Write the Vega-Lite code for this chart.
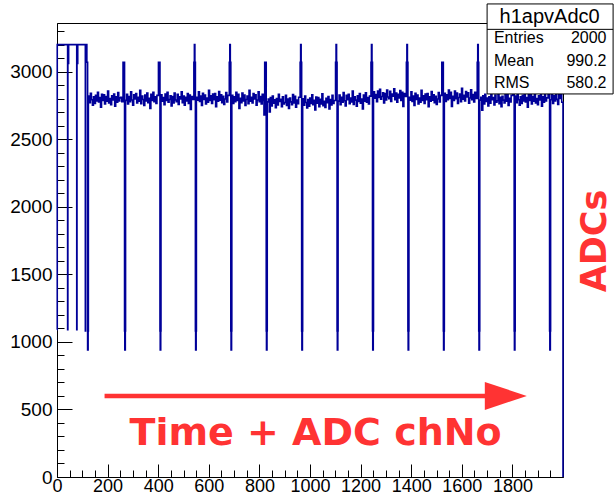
{
  "$schema": "https://vega.github.io/schema/vega-lite/v6.json",
  "width": 506,
  "height": 454,
  "autosize": {"type": "none"},
  "padding": {"left": 57, "top": 23, "right": 51, "bottom": 24},
  "background": "white",
  "config": {"view": {"stroke": "black", "strokeWidth": 1}, "font": "Liberation Sans"},
  "encoding": {
    "x": {"field": "x", "type": "quantitative",
      "scale": {"domain": [0, 2000], "nice": false, "zero": false},
      "axis": {"title": null, "grid": false,
        "values": [0,50,100,150,200,250,300,350,400,450,500,550,600,650,700,750,800,850,900,950,1000,1050,1100,1150,1200,1250,1300,1350,1400,1450,1500,1550,1600,1650,1700,1750,1800,1850,1900,1950],
        "labelExpr": "datum.value % 200 == 0 ? datum.label : ''",
        "format": "d",
        "tickSize": {"condition": {"test": "datum.value % 200 == 0", "value": -13}, "value": -7},
        "tickColor": "black", "tickWidth": 1, "domainColor": "black", "domainWidth": 1,
        "labelFont": "Liberation Sans", "labelFontSize": 18, "labelColor": "black",
        "labelPadding": 13, "labelFlush": false, "labelOverlap": false}},
    "y": {"field": "y", "type": "quantitative",
      "scale": {"domain": [0, 3360], "nice": false, "zero": false},
      "axis": {"title": null, "grid": false,
        "values": [0,100,200,300,400,500,600,700,800,900,1000,1100,1200,1300,1400,1500,1600,1700,1800,1900,2000,2100,2200,2300,2400,2500,2600,2700,2800,2900,3000,3100,3200,3300],
        "labelExpr": "datum.value % 500 == 0 ? datum.label : ''",
        "format": "d",
        "tickSize": {"condition": {"test": "datum.value % 500 == 0", "value": -15}, "value": -7},
        "tickColor": "black", "tickWidth": 1, "domainColor": "black", "domainWidth": 1,
        "labelFont": "Liberation Sans", "labelFontSize": 19, "labelColor": "black",
        "labelPadding": 20, "labelFlush": false, "labelOverlap": false}}
  },
  "layer": [
    {
      "data": {"values": [
        {"x":0,"y":1090},{"x":1,"y":3200},{"x":42,"y":1090},{"x":43,"y":3060},{"x":46,"y":3200},{"x":78,"y":1090},{"x":79,"y":3060},{"x":82,"y":3200},{"x":112,"y":1080},{"x":113,"y":3200},{"x":118,"y":3070},{"x":121,"y":940},{"x":123,"y":1080},
        {"x":124,"y":2819},{"x":128,"y":2771},{"x":132,"y":2840},{"x":136,"y":2792},{"x":140,"y":2752},{"x":144,"y":2813},{"x":148,"y":2765},{"x":152,"y":2824},{"x":156,"y":2784},{"x":160,"y":2848},{"x":164,"y":2776},{"x":168,"y":2808},{"x":172,"y":2736},{"x":176,"y":2832},{"x":180,"y":2787},{"x":184,"y":2829},{"x":188,"y":2760},{"x":192,"y":2816},{"x":196,"y":2781},{"x":200,"y":2856},{"x":204,"y":2768},{"x":208,"y":2800},{"x":212,"y":2755},{"x":216,"y":2822},{"x":220,"y":2790},{"x":224,"y":2835},{"x":228,"y":2744},{"x":232,"y":2814},{"x":236,"y":2774},{"x":240,"y":2845},{"x":244,"y":2784},{"x":248,"y":2806},{"x":252,"y":2810},{"x":256,"y":2778},
        {"x":261,"y":3070},{"x":267,"y":1080},{"x":268,"y":940},{"x":270,"y":1080},
        {"x":271,"y":2787},{"x":275,"y":2832},{"x":279,"y":2760},{"x":283,"y":2816},{"x":287,"y":2778},{"x":291,"y":2851},{"x":295,"y":2790},{"x":299,"y":2752},{"x":303,"y":2829},{"x":307,"y":2797},{"x":311,"y":2838},{"x":315,"y":2768},{"x":319,"y":2810},{"x":323,"y":2781},{"x":327,"y":2861},{"x":331,"y":2762},{"x":335,"y":2819},{"x":339,"y":2794},{"x":343,"y":2749},{"x":347,"y":2826},{"x":351,"y":2784},{"x":355,"y":2842},{"x":359,"y":2771},{"x":363,"y":2803},{"x":367,"y":2728},{"x":371,"y":2832},{"x":375,"y":2787},{"x":379,"y":2848},{"x":383,"y":2778},{"x":387,"y":2813},{"x":391,"y":2765},{"x":395,"y":2824},
        {"x":401,"y":3070},{"x":407,"y":1080},{"x":408,"y":940},{"x":410,"y":1080},
        {"x":411,"y":2829},{"x":415,"y":2781},{"x":419,"y":2808},{"x":423,"y":2755},{"x":427,"y":2835},{"x":431,"y":2787},{"x":435,"y":2848},{"x":439,"y":2774},{"x":443,"y":2794},{"x":447,"y":2822},{"x":451,"y":2746},{"x":455,"y":2816},{"x":459,"y":2768},{"x":463,"y":2842},{"x":467,"y":2790},{"x":471,"y":2778},{"x":475,"y":2832},{"x":479,"y":2758},{"x":483,"y":2813},{"x":487,"y":2797},{"x":491,"y":2851},{"x":495,"y":2771},{"x":499,"y":2819},{"x":503,"y":2752},{"x":507,"y":2810},{"x":511,"y":2784},{"x":515,"y":2838},{"x":519,"y":2765},{"x":523,"y":2826},{"x":527,"y":2720},{"x":531,"y":2816},{"x":535,"y":2794},
        {"x":541,"y":3070},{"x":543,"y":3200},{"x":545,"y":3070},{"x":547,"y":1080},{"x":548,"y":940},{"x":550,"y":1080},
        {"x":551,"y":2811},{"x":555,"y":2789},{"x":559,"y":2850},{"x":563,"y":2779},{"x":567,"y":2819},{"x":571,"y":2749},{"x":575,"y":2840},{"x":579,"y":2795},{"x":583,"y":2827},{"x":587,"y":2760},{"x":591,"y":2805},{"x":595,"y":2773},{"x":599,"y":2861},{"x":603,"y":2786},{"x":607,"y":2821},{"x":611,"y":2765},{"x":615,"y":2834},{"x":619,"y":2792},{"x":623,"y":2837},{"x":627,"y":2741},{"x":631,"y":2813},{"x":635,"y":2781},{"x":639,"y":2853},{"x":643,"y":2789},{"x":647,"y":2829},{"x":651,"y":2770},{"x":655,"y":2818},{"x":659,"y":2757},{"x":663,"y":2797},{"x":667,"y":2845},{"x":671,"y":2776},{"x":675,"y":2824},
        {"x":681,"y":3070},{"x":683,"y":3200},{"x":685,"y":3070},{"x":687,"y":1080},{"x":688,"y":940},{"x":690,"y":1080},
        {"x":691,"y":2824},{"x":695,"y":2765},{"x":699,"y":2813},{"x":703,"y":2778},{"x":707,"y":2848},{"x":711,"y":2787},{"x":715,"y":2832},{"x":719,"y":2728},{"x":723,"y":2803},{"x":727,"y":2771},{"x":731,"y":2842},{"x":735,"y":2784},{"x":739,"y":2826},{"x":743,"y":2749},{"x":747,"y":2794},{"x":751,"y":2819},{"x":755,"y":2762},{"x":759,"y":2861},{"x":763,"y":2781},{"x":767,"y":2810},{"x":771,"y":2768},{"x":775,"y":2838},{"x":779,"y":2797},{"x":783,"y":2829},{"x":787,"y":2752},{"x":791,"y":2790},{"x":795,"y":2851},{"x":799,"y":2778},{"x":803,"y":2816},{"x":807,"y":2760},{"x":811,"y":2832},{"x":815,"y":2787},{"x":818,"y":2680},
        {"x":821,"y":3070},{"x":827,"y":1080},{"x":828,"y":940},{"x":830,"y":1080},
        {"x":831,"y":2776},{"x":835,"y":2798},{"x":839,"y":2702},{"x":843,"y":2808},{"x":847,"y":2747},{"x":851,"y":2820},{"x":855,"y":2766},{"x":859,"y":2792},{"x":863,"y":2734},{"x":867,"y":2801},{"x":871,"y":2753},{"x":875,"y":2833},{"x":879,"y":2779},{"x":883,"y":2795},{"x":887,"y":2740},{"x":891,"y":2814},{"x":895,"y":2760},{"x":899,"y":2772},{"x":903,"y":2824},{"x":907,"y":2750},{"x":911,"y":2798},{"x":915,"y":2728},{"x":919,"y":2804},{"x":923,"y":2776},{"x":927,"y":2756},{"x":931,"y":2830},{"x":935,"y":2769},{"x":939,"y":2817},{"x":943,"y":2737},{"x":947,"y":2790},{"x":951,"y":2763},{"x":955,"y":2811},
        {"x":961,"y":3070},{"x":963,"y":3200},{"x":965,"y":3070},{"x":967,"y":1080},{"x":968,"y":940},{"x":970,"y":1080},
        {"x":971,"y":2799},{"x":975,"y":2751},{"x":979,"y":2820},{"x":983,"y":2772},{"x":987,"y":2732},{"x":991,"y":2793},{"x":995,"y":2745},{"x":999,"y":2804},{"x":1003,"y":2764},{"x":1007,"y":2828},{"x":1011,"y":2756},{"x":1015,"y":2788},{"x":1019,"y":2716},{"x":1023,"y":2812},{"x":1027,"y":2767},{"x":1031,"y":2809},{"x":1035,"y":2740},{"x":1039,"y":2796},{"x":1043,"y":2761},{"x":1047,"y":2836},{"x":1051,"y":2748},{"x":1055,"y":2780},{"x":1059,"y":2735},{"x":1063,"y":2802},{"x":1067,"y":2770},{"x":1071,"y":2815},{"x":1075,"y":2724},{"x":1079,"y":2794},{"x":1083,"y":2754},{"x":1087,"y":2825},{"x":1091,"y":2764},{"x":1095,"y":2786},
        {"x":1101,"y":3070},{"x":1103,"y":3200},{"x":1105,"y":3070},{"x":1107,"y":1080},{"x":1108,"y":940},{"x":1110,"y":1080},
        {"x":1111,"y":2782},{"x":1115,"y":2827},{"x":1119,"y":2755},{"x":1123,"y":2811},{"x":1127,"y":2773},{"x":1131,"y":2846},{"x":1135,"y":2785},{"x":1139,"y":2747},{"x":1143,"y":2824},{"x":1147,"y":2792},{"x":1151,"y":2833},{"x":1155,"y":2763},{"x":1159,"y":2805},{"x":1163,"y":2776},{"x":1167,"y":2856},{"x":1171,"y":2757},{"x":1175,"y":2814},{"x":1179,"y":2789},{"x":1183,"y":2744},{"x":1187,"y":2821},{"x":1191,"y":2779},{"x":1195,"y":2837},{"x":1199,"y":2766},{"x":1203,"y":2798},{"x":1207,"y":2723},{"x":1211,"y":2827},{"x":1215,"y":2782},{"x":1219,"y":2843},{"x":1223,"y":2773},{"x":1227,"y":2808},{"x":1231,"y":2760},{"x":1235,"y":2819},
        {"x":1241,"y":3070},{"x":1243,"y":3200},{"x":1245,"y":3070},{"x":1247,"y":1080},{"x":1248,"y":940},{"x":1250,"y":1080},
        {"x":1251,"y":2851},{"x":1255,"y":2803},{"x":1259,"y":2830},{"x":1263,"y":2777},{"x":1267,"y":2857},{"x":1271,"y":2809},{"x":1275,"y":2870},{"x":1279,"y":2796},{"x":1283,"y":2816},{"x":1287,"y":2844},{"x":1291,"y":2768},{"x":1295,"y":2838},{"x":1299,"y":2790},{"x":1303,"y":2864},{"x":1307,"y":2812},{"x":1311,"y":2800},{"x":1315,"y":2854},{"x":1319,"y":2780},{"x":1323,"y":2835},{"x":1327,"y":2819},{"x":1331,"y":2873},{"x":1335,"y":2793},{"x":1339,"y":2841},{"x":1343,"y":2774},{"x":1347,"y":2832},{"x":1351,"y":2806},{"x":1355,"y":2860},{"x":1359,"y":2787},{"x":1363,"y":2848},{"x":1367,"y":2742},{"x":1371,"y":2838},{"x":1375,"y":2816},
        {"x":1381,"y":3070},{"x":1383,"y":3200},{"x":1385,"y":3070},{"x":1387,"y":1080},{"x":1388,"y":940},{"x":1390,"y":1080},
        {"x":1391,"y":2811},{"x":1395,"y":2789},{"x":1399,"y":2850},{"x":1403,"y":2779},{"x":1407,"y":2819},{"x":1411,"y":2749},{"x":1415,"y":2840},{"x":1419,"y":2795},{"x":1423,"y":2827},{"x":1427,"y":2760},{"x":1431,"y":2805},{"x":1435,"y":2773},{"x":1439,"y":2861},{"x":1443,"y":2786},{"x":1447,"y":2821},{"x":1451,"y":2765},{"x":1455,"y":2834},{"x":1459,"y":2792},{"x":1463,"y":2837},{"x":1467,"y":2741},{"x":1471,"y":2813},{"x":1475,"y":2781},{"x":1479,"y":2853},{"x":1483,"y":2789},{"x":1487,"y":2829},{"x":1491,"y":2770},{"x":1495,"y":2818},{"x":1499,"y":2757},{"x":1503,"y":2797},{"x":1507,"y":2845},{"x":1511,"y":2776},{"x":1515,"y":2824},
        {"x":1521,"y":3070},{"x":1527,"y":1080},{"x":1528,"y":940},{"x":1530,"y":1080},
        {"x":1531,"y":2839},{"x":1535,"y":2780},{"x":1539,"y":2828},{"x":1543,"y":2793},{"x":1547,"y":2863},{"x":1551,"y":2802},{"x":1555,"y":2847},{"x":1559,"y":2743},{"x":1563,"y":2818},{"x":1567,"y":2786},{"x":1571,"y":2857},{"x":1575,"y":2799},{"x":1579,"y":2841},{"x":1583,"y":2764},{"x":1587,"y":2809},{"x":1591,"y":2834},{"x":1595,"y":2777},{"x":1599,"y":2876},{"x":1603,"y":2796},{"x":1607,"y":2825},{"x":1611,"y":2783},{"x":1615,"y":2853},{"x":1619,"y":2812},{"x":1623,"y":2844},{"x":1627,"y":2767},{"x":1631,"y":2805},{"x":1635,"y":2866},{"x":1639,"y":2793},{"x":1643,"y":2831},{"x":1647,"y":2775},{"x":1651,"y":2847},{"x":1655,"y":2802},
        {"x":1661,"y":3070},{"x":1663,"y":3200},{"x":1665,"y":3070},{"x":1667,"y":1080},{"x":1668,"y":940},{"x":1670,"y":1080},
        {"x":1671,"y":2789},{"x":1675,"y":2811},{"x":1679,"y":2715},{"x":1683,"y":2821},{"x":1687,"y":2760},{"x":1691,"y":2833},{"x":1695,"y":2779},{"x":1699,"y":2805},{"x":1703,"y":2747},{"x":1707,"y":2814},{"x":1711,"y":2766},{"x":1715,"y":2846},{"x":1719,"y":2792},{"x":1723,"y":2808},{"x":1727,"y":2753},{"x":1731,"y":2827},{"x":1735,"y":2773},{"x":1739,"y":2785},{"x":1743,"y":2837},{"x":1747,"y":2763},{"x":1751,"y":2811},{"x":1755,"y":2741},{"x":1759,"y":2817},{"x":1763,"y":2789},{"x":1767,"y":2769},{"x":1771,"y":2843},{"x":1775,"y":2782},{"x":1779,"y":2830},{"x":1783,"y":2750},{"x":1787,"y":2803},{"x":1791,"y":2776},{"x":1795,"y":2824},
        {"x":1801,"y":3070},{"x":1803,"y":3200},{"x":1805,"y":3070},{"x":1807,"y":1080},{"x":1808,"y":940},{"x":1810,"y":1080},
        {"x":1811,"y":2819},{"x":1815,"y":2771},{"x":1819,"y":2840},{"x":1823,"y":2792},{"x":1827,"y":2752},{"x":1831,"y":2813},{"x":1835,"y":2765},{"x":1839,"y":2824},{"x":1843,"y":2784},{"x":1847,"y":2848},{"x":1851,"y":2776},{"x":1855,"y":2808},{"x":1859,"y":2736},{"x":1863,"y":2832},{"x":1867,"y":2787},{"x":1871,"y":2829},{"x":1875,"y":2760},{"x":1879,"y":2816},{"x":1883,"y":2781},{"x":1887,"y":2856},{"x":1891,"y":2768},{"x":1895,"y":2800},{"x":1899,"y":2755},{"x":1903,"y":2822},{"x":1907,"y":2790},{"x":1911,"y":2835},{"x":1915,"y":2744},{"x":1919,"y":2814},{"x":1923,"y":2774},{"x":1927,"y":2845},{"x":1931,"y":2784},{"x":1935,"y":2806},
        {"x":1941,"y":3070},{"x":1943,"y":3200},{"x":1945,"y":3070},{"x":1947,"y":1080},{"x":1948,"y":940},{"x":1950,"y":1080},
        {"x":1951,"y":2792},{"x":1955,"y":2837},{"x":1959,"y":2765},{"x":1963,"y":2821},{"x":1967,"y":2783},{"x":1971,"y":2856},{"x":1975,"y":2795},{"x":1979,"y":2757},{"x":1983,"y":2834},{"x":1987,"y":2802},{"x":1991,"y":2843},{"x":1995,"y":2773},{"x":2000,"y":0}
      ]},
      "mark": {"type": "line", "interpolate": "step-after", "color": "#000099", "strokeWidth": 1.6}
    },
    {
      "data": {"values": [{"x": 188, "y": 600}, {"x": 1712, "y": 600}]},
      "mark": {"type": "line", "color": "#ff3333", "strokeWidth": 4.5, "strokeCap": "butt"}
    },
    {
      "data": {"values": [{"x": 1774, "y": 600}]},
      "mark": {"type": "point", "shape": "M-1,-0.667L1,0L-1,0.667Z", "size": 1764, "filled": true, "color": "#ff3333", "opacity": 1, "strokeWidth": 0}
    },
    {
      "data": {"values": [{"x": 1022, "y": 237, "t": "Time + ADC chNo"}]},
      "mark": {"type": "text", "font": "DejaVu Sans", "fontWeight": "bold", "fontSize": 38, "color": "#ff3333", "align": "center", "baseline": "alphabetic"},
      "encoding": {"text": {"field": "t"}}
    },
    {
      "data": {"values": [{"x": 2127, "y": 1747, "t": "ADCs"}]},
      "mark": {"type": "text", "font": "DejaVu Sans", "fontWeight": "bold", "fontSize": 35, "color": "#ff3333", "align": "center", "baseline": "middle", "angle": 270},
      "encoding": {"text": {"field": "t"}}
    },
    {
      "data": {"values": [{"x": 1700, "x2": 2198, "y": 3501, "y2": 2835}]},
      "mark": {"type": "rect", "fill": "white", "stroke": "black", "strokeWidth": 1},
      "encoding": {"x2": {"field": "x2"}, "y2": {"field": "y2"}}
    },
    {
      "data": {"values": [{"x": 1700, "x2": 2198, "y": 3313}]},
      "mark": {"type": "rule", "color": "black", "strokeWidth": 1},
      "encoding": {"x2": {"field": "x2"}}
    },
    {
      "data": {"values": [{"x": 1947, "y": 3408, "t": "h1apvAdc0"}]},
      "mark": {"type": "text", "font": "Liberation Sans", "fontSize": 20, "color": "black", "align": "center", "baseline": "middle"},
      "encoding": {"text": {"field": "t"}}
    },
    {
      "data": {"values": [
        {"x": 1727, "y": 3247, "t": "Entries"},
        {"x": 1727, "y": 3079, "t": "Mean"},
        {"x": 1727, "y": 2914, "t": "RMS"}
      ]},
      "mark": {"type": "text", "font": "Liberation Sans", "fontSize": 16, "color": "black", "align": "left", "baseline": "middle"},
      "encoding": {"text": {"field": "t"}}
    },
    {
      "data": {"values": [
        {"x": 2172, "y": 3247, "t": "2000"},
        {"x": 2172, "y": 3079, "t": "990.2"},
        {"x": 2172, "y": 2914, "t": "580.2"}
      ]},
      "mark": {"type": "text", "font": "Liberation Sans", "fontSize": 16, "color": "black", "align": "right", "baseline": "middle"},
      "encoding": {"text": {"field": "t"}}
    }
  ]
}
